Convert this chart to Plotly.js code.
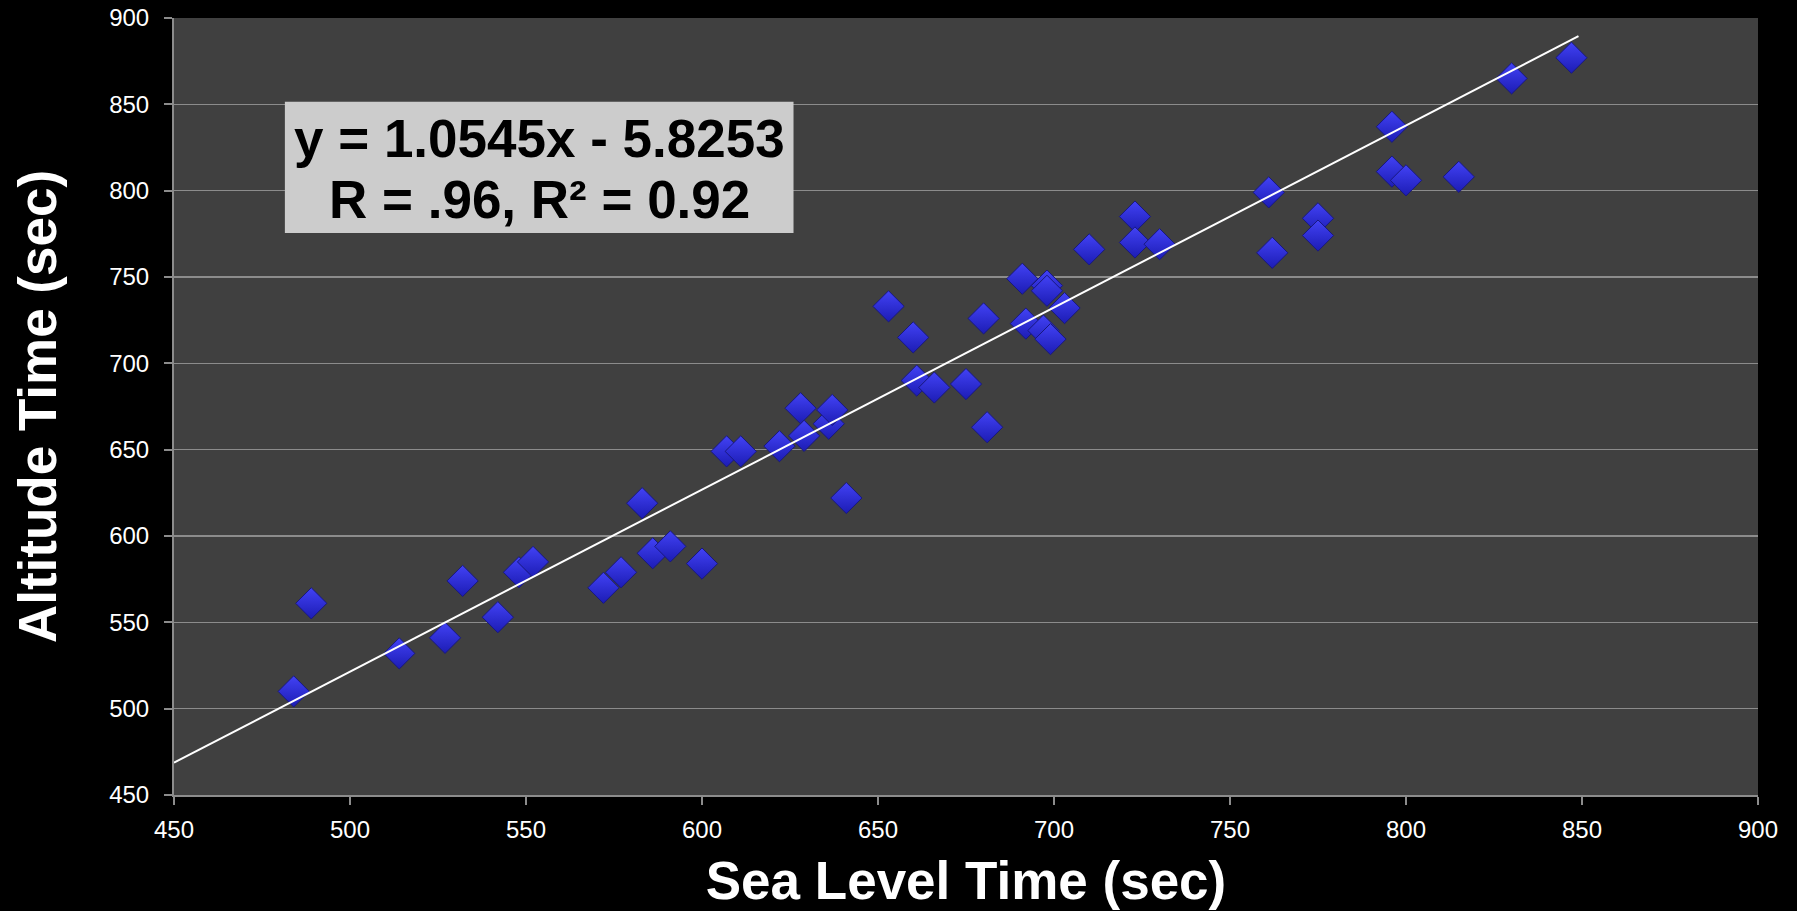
<!DOCTYPE html>
<html>
<head>
<meta charset="utf-8">
<script src="https://cdn.plot.ly/plotly-3.0.1.min.js"></script>
<style>
  html, body { margin: 0; padding: 0; background: #000; }
  #chart { width: 1797px; height: 911px; }
</style>
</head>
<body>
<div id="chart"></div>
<script>
// Sea level time (x) vs altitude time (y), seconds
const seaLevelTime = [484, 489, 514, 527, 532, 542, 548, 552, 572, 577,
  583, 586, 591, 600, 607, 611, 622, 628, 629, 636,
  637, 641, 653, 660, 661, 666, 675, 680, 681, 691,
  692, 697, 698, 698, 699, 703, 710, 723, 723, 730,
  761, 762, 775, 775, 796, 796, 800, 815, 830, 847];
const altitudeTime = [510, 561, 532, 541, 574, 553, 579, 585, 570, 579,
  619, 590, 594, 584, 649, 649, 652, 674, 658, 665,
  673, 622, 733, 715, 690, 686, 688, 726, 663, 749,
  723, 719, 745, 742, 714, 732, 766, 785, 770, 769,
  799, 764, 784, 774, 837, 811, 806, 808, 865, 877];

// Linear trend line y = slope * x + intercept
const trendSlope = 1.0545;
const trendIntercept = -5.8253;
const trendX = [450, 849];
const trendY = trendX.map(x => trendSlope * x + trendIntercept);

const tickVals = [450, 500, 550, 600, 650, 700, 750, 800, 850, 900];
const equationText = "y = 1.0545x - 5.8253";
const statsText = "R = .96, R² = 0.92";
const xTitle = "Sea Level Time (sec)";
const yTitle = "Altitude Time (sec)";

const font = "Liberation Sans, Arial, Helvetica, sans-serif";

const traces = [
  {
    x: seaLevelTime, y: altitudeTime,
    type: "scatter", mode: "markers",
    marker: {
      symbol: "diamond", size: 24, color: "#4242f5",
      gradient: {type: "vertical", color: "#1c1cb4"},
      line: {color: "#18187e", width: 1}
    },
    hoverinfo: "x+y", showlegend: false
  },
  {
    x: trendX, y: trendY,
    type: "scatter", mode: "lines",
    line: {color: "#ffffff", width: 2},
    hoverinfo: "skip", showlegend: false
  }
];

const axisCommon = {
  tickmode: "array", tickvals: tickVals,
  showline: true, linecolor: "#8c8c8c", linewidth: 2,
  ticks: "outside", ticklen: 8, tickcolor: "#8c8c8c", tickwidth: 2,
  tickfont: {family: font, size: 24, color: "#ffffff"},
  zeroline: false
};

const layout = {
  width: 1797, height: 911,
  paper_bgcolor: "#000000", plot_bgcolor: "#404040",
  margin: {l: 174, r: 39, t: 18, b: 116},
  xaxis: Object.assign({}, axisCommon, {
    range: [450, 900], showgrid: false, ticklabelstandoff: 4,
    title: {text: xTitle, font: {family: font, size: 53, color: "#ffffff", weight: "bold"}, standoff: 20}
  }),
  yaxis: Object.assign({}, axisCommon, {
    range: [450, 900], showgrid: true, gridcolor: "#8c8c8c", gridwidth: 1.5,
    ticklabelstandoff: 10,
    title: {text: yTitle, font: {family: font, size: 53, color: "#ffffff", weight: "bold"}, standoff: 36}
  }),
  shapes: [{
    type: "rect", xref: "x", yref: "y",
    x0: 481.5, x1: 626, y0: 775.5, y1: 851.5,
    fillcolor: "#cccccc", line: {width: 0}, layer: "above"
  }],
  annotations: [
    {xref: "x", yref: "y", x: 553.8, y: 830.5, text: equationText, showarrow: false,
     font: {family: font, size: 53, color: "#000000", weight: "bold"}},
    {xref: "x", yref: "y", x: 553.8, y: 795, text: statsText, showarrow: false,
     font: {family: font, size: 53, color: "#000000", weight: "bold"}}
  ]
};

Plotly.newPlot("chart", traces, layout, {displayModeBar: false, staticPlot: true});
</script>
</body>
</html>
